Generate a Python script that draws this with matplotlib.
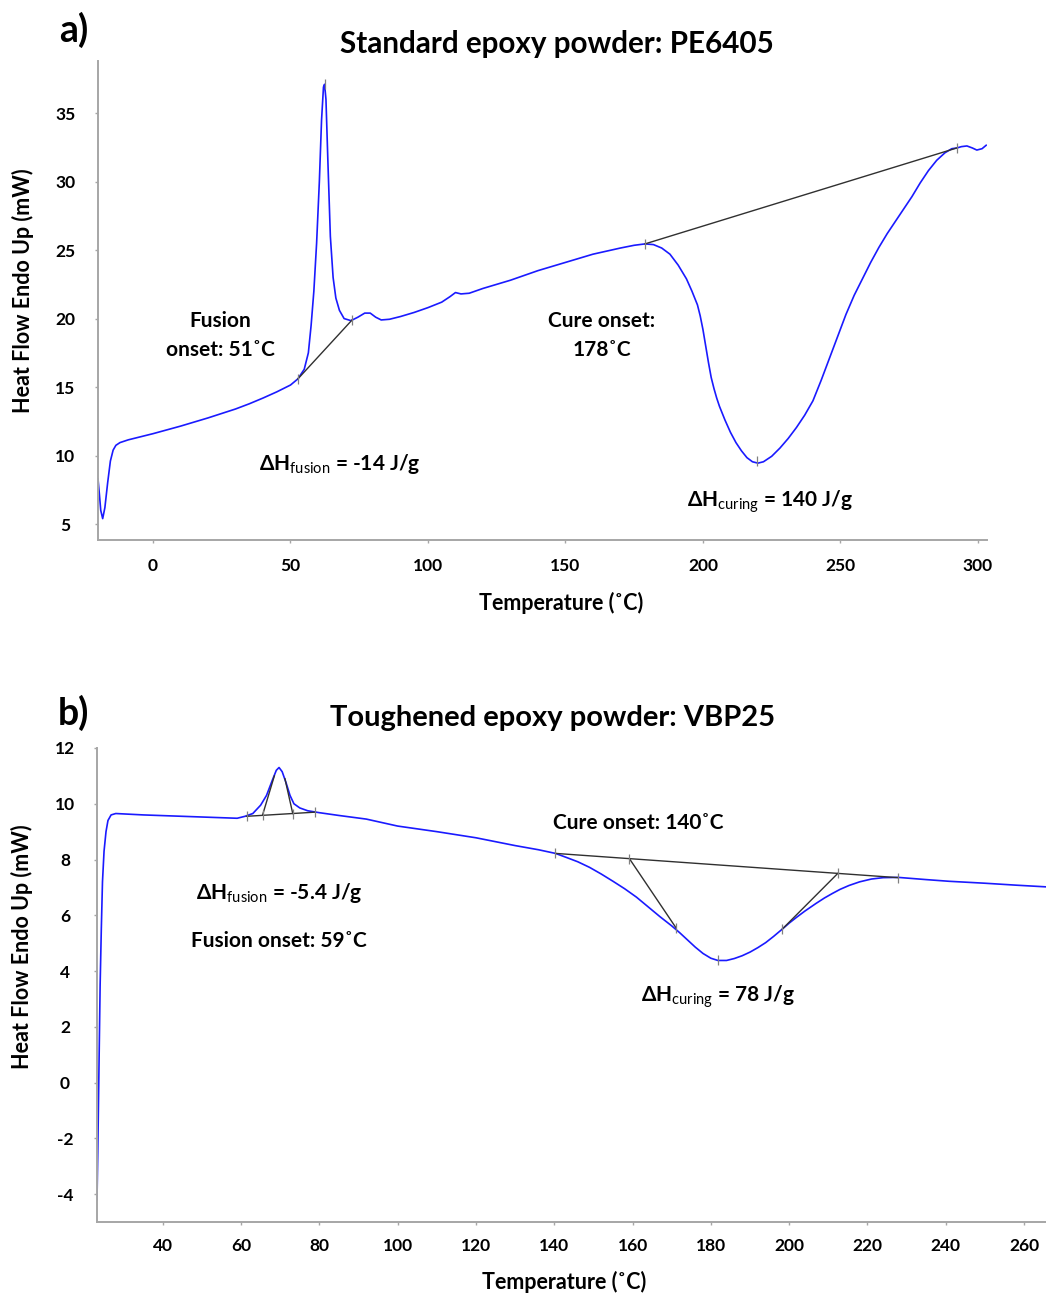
import matplotlib
matplotlib.use("Agg")
import matplotlib.pyplot as plt

plt.rcParams['font.family'] = ['Lato', 'DejaVu Sans']
plt.rcParams['mathtext.fontset'] = 'custom'
plt.rcParams['mathtext.rm'] = 'Lato:bold'
plt.rcParams['mathtext.bf'] = 'Lato:bold'
plt.rcParams['mathtext.it'] = 'Lato:italic'
plt.rcParams['mathtext.sf'] = 'Lato'

# ---------------- data: panel a (PE6405) ----------------
temp_a = [-20.0, -19.5, -19.0, -18.3, -17.5, -16.5, -15.5, -14.5, -13.5, -12.0, -9.0, -5.0,
          0.0, 10.0, 20.0, 30.0, 35.0, 40.0, 45.0, 50.0, 52.7, 55.0, 56.5, 57.5, 58.5, 59.5, 60.5,
          61.3, 62.0, 62.4, 62.9, 63.6, 64.5, 65.5, 66.5, 67.8, 69.5, 72.0, 74.5, 77.0, 79.0,
          81.0, 83.0, 86.0, 90.0, 95.0, 100.0, 105.0, 108.0, 110.0, 112.0, 115.0, 120.0,
          130.0, 140.0, 150.0, 160.0, 170.0, 175.0, 178.9, 182.0, 185.0, 188.0, 191.0, 194.0,
          196.0, 198.0, 199.0, 200.0, 201.0, 202.0, 203.0, 204.0, 205.0, 206.0, 208.0, 210.0,
          212.0, 214.0, 216.0, 218.0, 220.0, 222.0, 225.0, 228.0, 231.0, 234.0, 237.0, 240.0,
          243.0, 246.0, 249.0, 252.0, 255.0, 258.0, 261.0, 264.0, 267.0, 270.0, 273.0, 276.0,
          279.0, 282.0, 285.0, 288.0, 290.5, 292.3, 294.0, 296.0, 298.0, 299.6, 301.5, 303.0]
heat_a = [8.3, 7.2, 6.0, 5.4, 6.2, 8.0, 9.6, 10.4, 10.75, 10.95, 11.15, 11.35,
          11.6, 12.15, 12.75, 13.4, 13.78, 14.2, 14.65, 15.15, 15.6, 16.3, 17.5, 19.5, 22.0, 25.5, 30.0,
          34.5, 36.9, 37.1, 36.0, 31.5, 26.0, 23.0, 21.5, 20.6, 20.0, 19.85, 20.1, 20.4, 20.4,
          20.1, 19.9, 19.95, 20.15, 20.45, 20.8, 21.2, 21.6, 21.9, 21.8, 21.85, 22.2,
          22.8, 23.5, 24.1, 24.7, 25.15, 25.35, 25.45, 25.4, 25.15, 24.7, 23.9, 22.9,
          22.0, 21.0, 20.2, 19.2, 18.0, 16.8, 15.7, 14.9, 14.2, 13.6, 12.6, 11.7,
          10.95, 10.35, 9.85, 9.55, 9.45, 9.55, 9.95, 10.55, 11.25, 12.05, 12.95, 14.0,
          15.5, 17.1, 18.7, 20.3, 21.7, 22.9, 24.1, 25.2, 26.2, 27.1, 28.0, 28.9,
          29.9, 30.8, 31.55, 32.1, 32.4, 32.45, 32.55, 32.6, 32.45, 32.3, 32.4, 32.65]
# baselines (black) panel a
fus_base_a_T = [52.7, 72.4]
fus_base_a_H = [15.6, 19.9]
cure_base_a_T = [178.9, 292.3]
cure_base_a_H = [25.45, 32.45]
marks_a_T = [52.7, 72.4, 62.4, 178.9, 292.3, 219.5]
marks_a_H = [15.6, 19.9, 37.1, 25.45, 32.45, 9.6]
xticks_a = [0, 50, 100, 150, 200, 250, 300]
yticks_a = [5, 10, 15, 20, 25, 30, 35]

# ---------------- data: panel b (VBP25) ----------------
temp_b = [23.2, 23.4, 23.6, 23.8, 24.0, 24.3, 24.6, 25.0, 25.5, 26.0, 26.8, 28.0, 35.0, 45.0,
          55.0, 59.0, 61.0, 63.0, 65.0, 66.5, 68.0, 69.0, 69.7, 70.5, 71.5, 72.5, 73.5, 75.0,
          77.0, 80.0, 85.0, 92.0, 100.0, 110.0, 120.0, 130.0, 136.0, 140.3, 143.0, 146.0,
          149.0, 152.0, 155.0, 158.0, 161.0, 164.0, 167.0, 170.0, 172.0, 174.0, 176.0, 178.0,
          180.0, 181.8, 184.0, 186.0, 188.0, 190.0, 192.0, 194.0, 196.0, 198.2, 200.0, 202.0,
          204.0, 206.8, 209.0, 211.0, 213.0, 215.3, 218.0, 221.0, 224.0, 227.8, 235.0, 240.8,
          250.0, 258.0, 265.6]
heat_b = [-4.2, -2.5, -0.5, 1.5, 3.5, 5.5, 7.2, 8.3, 9.0, 9.4, 9.6, 9.65, 9.6, 9.55,
          9.5, 9.48, 9.55, 9.65, 9.95, 10.3, 10.85, 11.2, 11.3, 11.15, 10.75, 10.3, 10.0, 9.85,
          9.75, 9.68, 9.58, 9.45, 9.2, 9.0, 8.78, 8.5, 8.35, 8.22, 8.08, 7.92,
          7.72, 7.48, 7.22, 6.95, 6.65, 6.3, 5.95, 5.62, 5.38, 5.12, 4.86, 4.63,
          4.46, 4.38, 4.38, 4.45, 4.55, 4.68, 4.84, 5.02, 5.24, 5.5, 5.72, 5.94,
          6.15, 6.42, 6.62, 6.78, 6.93, 7.07, 7.2, 7.3, 7.35, 7.36, 7.28, 7.22,
          7.15, 7.08, 7.02]
fus_base_b_T = [61.4, 79.0]
fus_base_b_H = [9.55, 9.7]
fus_tan1_b_T = [65.5, 68.5]
fus_tan1_b_H = [9.6, 11.0]
fus_tan2_b_T = [73.2, 71.2]
fus_tan2_b_H = [9.65, 10.9]
cure_base_b_T = [140.3, 227.8]
cure_base_b_H = [8.22, 7.35]
cure_tan1_b_T = [159.2, 171.1]
cure_tan1_b_H = [8.03, 5.55]
cure_tan2_b_T = [212.4, 198.2]
cure_tan2_b_H = [7.50, 5.5]
marks_b_T = [61.4, 65.5, 73.2, 79.0, 140.3, 159.2, 171.1, 181.8, 198.2, 212.4, 227.8]
marks_b_H = [9.55, 9.6, 9.65, 9.7, 8.22, 8.03, 5.55, 4.38, 5.5, 7.50, 7.35]
xticks_b = [40, 60, 80, 100, 120, 140, 160, 180, 200, 220, 240, 260]
yticks_b = [-4, -2, 0, 2, 4, 6, 8, 10, 12]

W, H = 1046, 1295
fig = plt.figure(figsize=(W / 100, H / 100), dpi=100)

BLUE = '#1a1aff'
GRAY = '#a6a6a6'
LINE = '#303030'


def style(ax, xticks, yticks, ypad, xpad):
    for s in ['top', 'right']:
        ax.spines[s].set_visible(False)
    for s in ['left', 'bottom']:
        ax.spines[s].set_color(GRAY)
        ax.spines[s].set_linewidth(1.4)
    ax.set_xticks(xticks, labels=[str(v) for v in xticks], fontweight='bold')
    ax.set_yticks(yticks, labels=[str(v) for v in yticks], fontweight='bold')
    ax.tick_params(axis='both', direction='out', length=2, width=1, color=GRAY,
                   labelsize=12.5, labelcolor='black')
    ax.tick_params(axis='y', pad=ypad)
    ax.tick_params(axis='x', pad=xpad)
    for t in ax.get_yticklabels():
        t.set_ha('center')


def dh(sub, rest):
    return r'$\mathrm{\Delta H}_{\mathsf{' + sub + r'}}\text{ = ' + rest + r'}$'


# ---------------- panel a ----------------
ax1 = fig.add_axes([98 / W, 1 - 540 / H, (987 - 98) / W, (540 - 61) / H])
ax1.plot(temp_a, heat_a, color=BLUE, lw=1.2)
ax1.plot(fus_base_a_T, fus_base_a_H, color=LINE, lw=1.0)
ax1.plot(cure_base_a_T, cure_base_a_H, color=LINE, lw=1.0)
ax1.plot(marks_a_T, marks_a_H, ls='none', marker='|', ms=7, mew=0.9, color='#808080')
ax1.set_xlim(-20, 303.3)
ax1.set_ylim(3.84, 38.8)
style(ax1, xticks_a, yticks_a, ypad=21.5, xpad=11)
ax1.set_xlabel('Temperature (˚C)', fontsize=15.5, fontweight='bold')
ax1.xaxis.set_label_coords((561 - 98) / 889, -(592 - 540) / 479)
ax1.xaxis.label.set_va('top')
ax1.set_ylabel('Heat Flow Endo Up (mW)', fontsize=15.5, fontweight='bold')
ax1.yaxis.set_label_coords(-(98 - 34) / 889, (540 - 291) / 479)

ax1.text(24.4, 18.76, 'Fusion\nonset: 51˚C', ha='center', va='center',
         fontsize=15, fontweight='bold', linespacing=1.55)
ax1.text(163.3, 18.76, 'Cure onset:\n178˚C', ha='center', va='center',
         fontsize=15, fontweight='bold', linespacing=1.55)
ax1.text(68.0, 8.93, dh('fusion', '-14 J/g'), ha='center', va='baseline', fontsize=15)
ax1.text(224.4, 6.24, dh('curing', '140 J/g'), ha='center', va='baseline', fontsize=15)

fig.text(74 / W, 1 - 42 / H, 'a)', ha='center', va='baseline', fontsize=27, fontweight='bold')
fig.text(557 / W, 1 - 53 / H, 'Standard epoxy powder: PE6405', ha='center', va='baseline',
         fontsize=21.3, fontweight='bold')

# ---------------- panel b ----------------
ax2 = fig.add_axes([97 / W, 1 - 1222 / H, (1046 - 97) / W, (1222 - 748) / H])
ax2.plot(temp_b, heat_b, color=BLUE, lw=1.2)
for tx, hy in [(fus_base_b_T, fus_base_b_H), (fus_tan1_b_T, fus_tan1_b_H),
               (fus_tan2_b_T, fus_tan2_b_H), (cure_base_b_T, cure_base_b_H),
               (cure_tan1_b_T, cure_tan1_b_H), (cure_tan2_b_T, cure_tan2_b_H)]:
    ax2.plot(tx, hy, color=LINE, lw=1.0)
ax2.plot(marks_b_T, marks_b_H, ls='none', marker='|', ms=7, mew=0.9, color='#808080')
ax2.set_xlim(23.2, 265.6)
ax2.set_ylim(-5.0, 12.0)
style(ax2, xticks_b, yticks_b, ypad=21, xpad=9.5)
ax2.set_xlabel('Temperature (˚C)', fontsize=15.5, fontweight='bold')
ax2.xaxis.set_label_coords((564 - 97) / 949, -(1271 - 1222) / 474)
ax2.xaxis.label.set_va('top')
ax2.set_ylabel('Heat Flow Endo Up (mW)', fontsize=15.5, fontweight='bold')
ax2.yaxis.set_label_coords(-(97 - 33) / 949, (1222 - 947) / 474)

ax2.text(69.85, 6.58, dh('fusion', '-5.4 J/g'), ha='center', va='baseline', fontsize=15)
ax2.text(69.6, 4.85, 'Fusion onset: 59˚C', ha='center', va='baseline',
         fontsize=15, fontweight='bold')
ax2.text(161.4, 9.09, 'Cure onset: 140˚C', ha='center', va='baseline',
         fontsize=15, fontweight='bold')
ax2.text(181.8, 2.91, dh('curing', '78 J/g'), ha='center', va='baseline', fontsize=15)

fig.text(73 / W, 1 - 725 / H, 'b)', ha='center', va='baseline', fontsize=27, fontweight='bold')
fig.text(553 / W, 1 - 726 / H, 'Toughened epoxy powder: VBP25', ha='center', va='baseline',
         fontsize=21, fontweight='bold')

fig.savefig('out.png', dpi=100)
